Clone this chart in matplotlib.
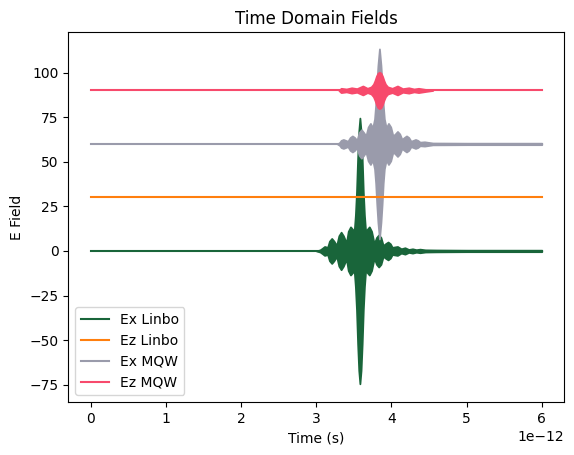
import numpy as np
import matplotlib
matplotlib.use("Agg")
import matplotlib.pyplot as plt

PS = 1e-12

# Time span of all traces (ps)
t_span = [0.0, 6.0]

# Baselines (E field offsets) of each trace
ex_linbo_base = 0.0
ez_linbo_base = 30.0
ex_mqw_base = 60.0
ez_mqw_base = 90.0

# Envelope of the fast oscillation (half peak-to-peak)
ex_linbo_t = [3.00, 3.05, 3.08, 3.11, 3.15, 3.175, 3.205, 3.235, 3.27, 3.30,
              3.33, 3.36, 3.40, 3.425, 3.455, 3.485, 3.505,
              3.52, 3.535, 3.55, 3.565, 3.58, 3.595, 3.61, 3.625, 3.64, 3.655,
              3.675, 3.705, 3.735, 3.77, 3.80, 3.83, 3.86, 3.89, 3.925, 3.955,
              3.985, 4.01, 4.08, 4.13, 4.18, 4.23, 4.28,
              4.33, 4.38, 4.45, 4.6, 5.0, 5.5, 6.0]
ex_linbo_amp = [0.0, 0.6, 1.5, 2.5, 2.0, 5.5, 7.0, 5.5, 3.0, 8.5,
                10.5, 8.5, 4.5, 11.0, 13.5, 12.0, 11.5,
                20.0, 33.0, 52.0, 67.0, 74.5, 67.0, 52.0, 33.0, 20.0, 11.5,
                12.0, 13.5, 11.0, 4.0, 7.5, 9.0, 7.5, 3.0, 4.2, 5.0,
                4.0, 2.0, 2.5, 1.2, 1.8, 0.8, 1.2,
                0.7, 1.0, 0.6, 0.5, 0.4, 0.4, 0.4]

ex_mqw_t = [3.28, 3.31, 3.33, 3.36, 3.39, 3.42, 3.45, 3.48, 3.51, 3.54, 3.57,
            3.60, 3.63, 3.66, 3.69, 3.72, 3.75,
            3.775, 3.79, 3.805, 3.82, 3.84, 3.86, 3.875, 3.89, 3.905, 3.93,
            3.96, 3.99, 4.02, 4.05, 4.08, 4.11, 4.14, 4.17, 4.20, 4.23, 4.26,
            4.29, 4.32, 4.35, 4.38, 4.44, 4.55, 5.0, 5.5, 6.0]
ex_mqw_amp = [0.0, 0.8, 2.0, 2.5, 2.0, 1.5, 3.6, 4.5, 3.6, 2.0, 6.4,
              8.0, 6.4, 4.5, 9.5, 11.5, 9.0,
              14.0, 22.0, 34.0, 44.0, 53.3, 44.0, 34.0, 22.0, 14.0, 9.0,
              11.5, 9.5, 4.5, 5.6, 7.0, 5.6, 2.5, 3.6, 4.5, 3.6, 1.5,
              2.0, 2.5, 2.0, 1.0, 1.2, 0.5, 0.4, 0.4, 0.4]

ez_mqw_t = [3.30, 3.33, 3.40, 3.47, 3.54, 3.62, 3.68, 3.73, 3.76, 3.78, 3.80,
            3.82, 3.84, 3.86, 3.88, 3.90, 3.92, 3.95, 4.01, 4.08, 4.15, 4.23,
            4.30, 4.36, 4.45, 4.55]
ez_mqw_amp = [0.0, 1.2, 0.8, 1.5, 1.0, 2.5, 1.2, 2.0, 3.5, 5.5, 8.0,
              9.7, 10.2, 9.7, 8.0, 5.5, 3.5, 2.0, 1.2, 2.5, 1.0, 1.5,
              0.8, 1.2, 0.6, 0.0]

labels = ["Ex Linbo", "Ez Linbo", "Ex MQW", "Ez MQW"]
colors = ["#19653a", "#ff7f0e", "#9a9bab", "#f74a6c"]

fig = plt.figure(figsize=(5.74, 4.55), dpi=100)
ax = fig.add_axes([0.119, 0.1165, 0.8641, 0.8125])

tspan = np.array(t_span) * PS

def draw(base, env_t, env_amp, color, label):
    ax.plot(tspan, [base, base], color=color, lw=1.5, label=label)
    if env_t is not None:
        et = np.array(env_t) * PS
        ea = np.array(env_amp)
        ax.fill_between(et, base - ea, base + ea, color=color, lw=1.3,
                        edgecolor=color)

draw(ex_linbo_base, ex_linbo_t, ex_linbo_amp, colors[0], labels[0])
draw(ez_linbo_base, None, None, colors[1], labels[1])
draw(ex_mqw_base, ex_mqw_t, ex_mqw_amp, colors[2], labels[2])
draw(ez_mqw_base, ez_mqw_t, ez_mqw_amp, colors[3], labels[3])

ax.set_ylim(-84.7, 122.6)
ax.set_title("Time Domain Fields")
ax.set_xlabel("Time (s)")
ax.set_ylabel("E Field")
ax.legend(loc="lower left")

fig.savefig("out.png", dpi=100)
